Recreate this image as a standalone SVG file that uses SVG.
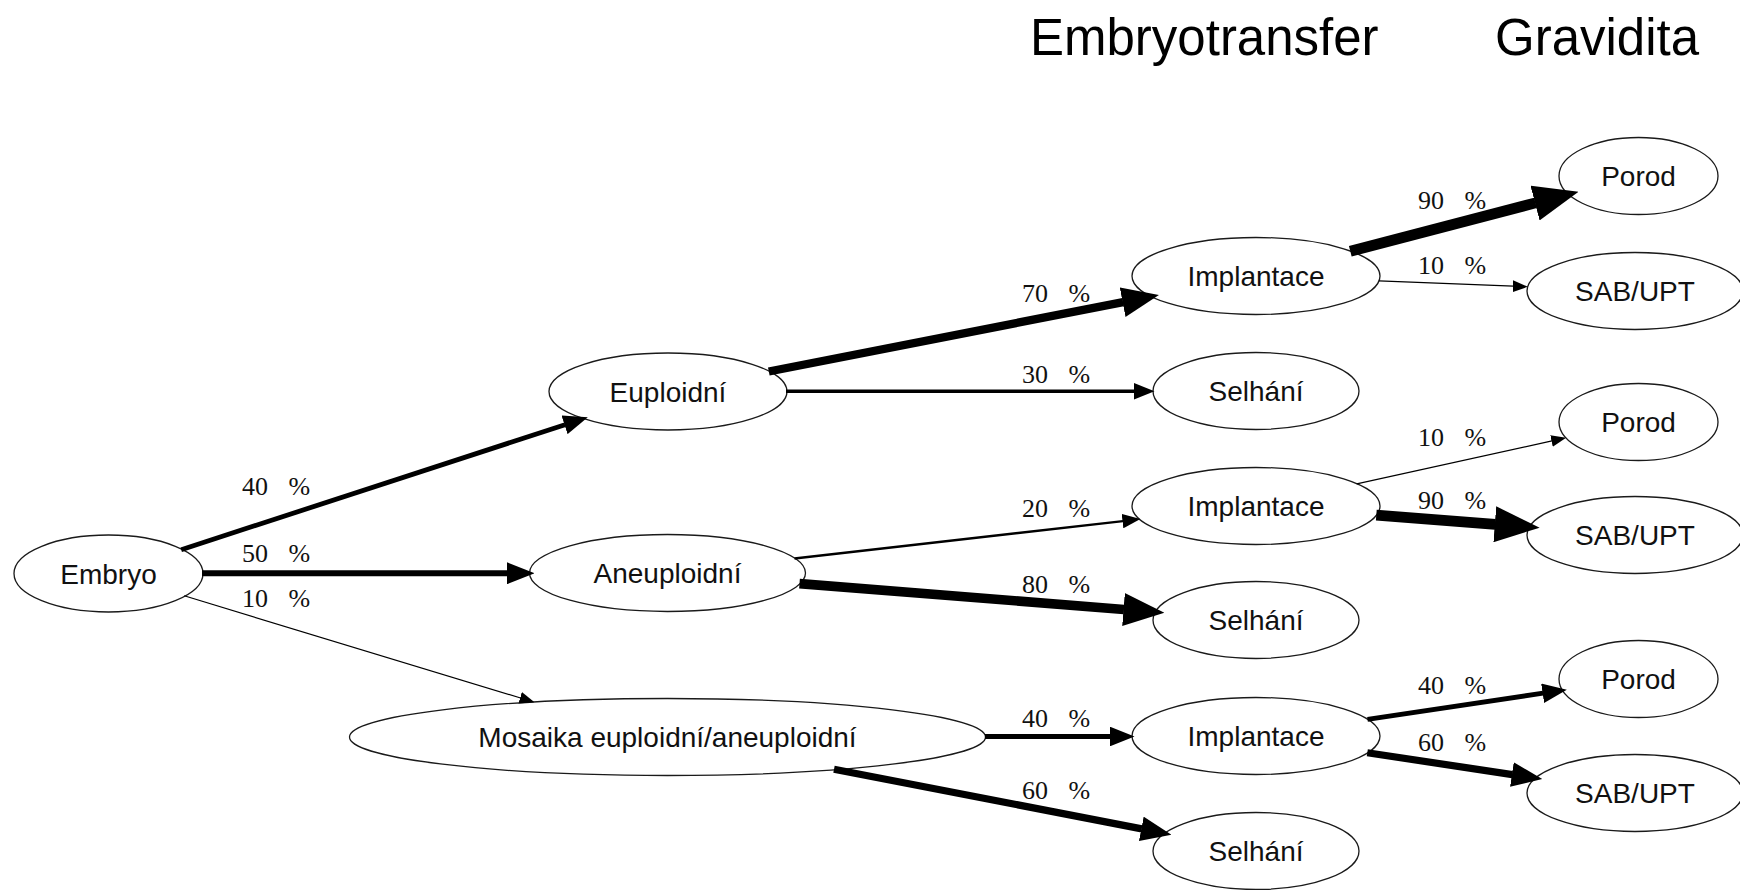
<svg xmlns="http://www.w3.org/2000/svg" width="1740" height="890" viewBox="0 0 1740 890">
<style>
.node ellipse{fill:#fff;stroke:#1a1a1a;stroke-width:1.3}
.node text{font-family:"Liberation Sans",Arial,sans-serif;font-size:28px;fill:#111;text-anchor:middle}
.title{font-family:"Liberation Sans",Arial,sans-serif;font-size:51px;fill:#000}
.edge{stroke:#000;fill:none;stroke-linecap:butt}
.w1{stroke-width:1.2}.w2{stroke-width:2.4}.w3{stroke-width:3.6}.w4{stroke-width:4.8}.w5{stroke-width:6}
.w6{stroke-width:7.2}.w7{stroke-width:8.4}.w8{stroke-width:9.6}.w9{stroke-width:10.8}
.el{font-family:"Liberation Serif","Times New Roman",serif;font-size:26px;fill:#111;word-spacing:14px}
marker path{fill:#000}
</style>
<defs>
<marker id="a1" markerUnits="userSpaceOnUse" viewBox="0 -6 15 12" markerWidth="15" markerHeight="12" refX="0.5" refY="0" orient="auto"><path d="M0,-6L15,0L0,6z"/></marker>
<marker id="a2" markerUnits="userSpaceOnUse" viewBox="0 -7.2 18 14.4" markerWidth="18" markerHeight="14.4" refX="0.5" refY="0" orient="auto"><path d="M0,-7.2L18,0L0,7.2z"/></marker>
<marker id="a3" markerUnits="userSpaceOnUse" viewBox="0 -8.5 21 17" markerWidth="21" markerHeight="17" refX="0.5" refY="0" orient="auto"><path d="M0,-8.5L21,0L0,8.5z"/></marker>
<marker id="a4" markerUnits="userSpaceOnUse" viewBox="0 -9.8 24.5 19.6" markerWidth="24.5" markerHeight="19.6" refX="0.5" refY="0" orient="auto"><path d="M0,-9.8L24.5,0L0,9.8z"/></marker>
<marker id="a5" markerUnits="userSpaceOnUse" viewBox="0 -11 27.6 22" markerWidth="27.6" markerHeight="22" refX="0.5" refY="0" orient="auto"><path d="M0,-11L27.6,0L0,11z"/></marker>
<marker id="a6" markerUnits="userSpaceOnUse" viewBox="0 -12.4 30.7 24.8" markerWidth="30.7" markerHeight="24.8" refX="0.5" refY="0" orient="auto"><path d="M0,-12.4L30.7,0L0,12.4z"/></marker>
<marker id="a7" markerUnits="userSpaceOnUse" viewBox="0 -15 37 30" markerWidth="37" markerHeight="30" refX="0.5" refY="0" orient="auto"><path d="M0,-15L37,0L0,15z"/></marker>
<marker id="a8" markerUnits="userSpaceOnUse" viewBox="0 -16.5 41 33" markerWidth="41" markerHeight="33" refX="0.5" refY="0" orient="auto"><path d="M0,-16.5L41,0L0,16.5z"/></marker>
<marker id="a9" markerUnits="userSpaceOnUse" viewBox="0 -18 45 36" markerWidth="45" markerHeight="36" refX="0.5" refY="0" orient="auto"><path d="M0,-18L45,0L0,18z"/></marker>
</defs>
<rect width="1740" height="890" fill="#fff"/>
<g id="titles">
<text class="title" x="1030" y="55">Embryotransfer</text>
<text class="title" x="1495" y="55">Gravidita</text>
</g>
<g id="nodes">
<g id="n_embryo" class="node"><ellipse cx="108.5" cy="573.5" rx="94.5" ry="38.5"/><text x="108.5" y="583.5">Embryo</text></g>
<g id="n_euploidni" class="node"><ellipse cx="668" cy="391.5" rx="119" ry="38.5"/><text x="668" y="401.5">Euploidní</text></g>
<g id="n_aneuploidni" class="node"><ellipse cx="667.5" cy="573" rx="138" ry="38.5"/><text x="667.5" y="583">Aneuploidní</text></g>
<g id="n_mosaika" class="node"><ellipse cx="667.5" cy="737" rx="318" ry="38.5"/><text x="667.5" y="747">Mosaika euploidní/aneuploidní</text></g>
<g id="n_impl1" class="node"><ellipse cx="1256" cy="276" rx="124" ry="38.5"/><text x="1256" y="286">Implantace</text></g>
<g id="n_sel1" class="node"><ellipse cx="1256" cy="391" rx="103" ry="38.5"/><text x="1256" y="401">Selhání</text></g>
<g id="n_impl2" class="node"><ellipse cx="1256" cy="506" rx="124" ry="38.5"/><text x="1256" y="516">Implantace</text></g>
<g id="n_sel2" class="node"><ellipse cx="1256" cy="620" rx="103" ry="38.5"/><text x="1256" y="630">Selhání</text></g>
<g id="n_impl3" class="node"><ellipse cx="1256" cy="736" rx="124" ry="38.5"/><text x="1256" y="746">Implantace</text></g>
<g id="n_sel3" class="node"><ellipse cx="1256" cy="851" rx="103" ry="38.5"/><text x="1256" y="861">Selhání</text></g>
<g id="n_porod1" class="node"><ellipse cx="1638.5" cy="176" rx="79.5" ry="38.5"/><text x="1638.5" y="186">Porod</text></g>
<g id="n_sab1" class="node"><ellipse cx="1635" cy="291" rx="108" ry="38.5"/><text x="1635" y="301">SAB/UPT</text></g>
<g id="n_porod2" class="node"><ellipse cx="1638.5" cy="422" rx="79.5" ry="38.5"/><text x="1638.5" y="432">Porod</text></g>
<g id="n_sab2" class="node"><ellipse cx="1635" cy="535" rx="108" ry="38.5"/><text x="1635" y="545">SAB/UPT</text></g>
<g id="n_porod3" class="node"><ellipse cx="1638.5" cy="679" rx="79.5" ry="38.5"/><text x="1638.5" y="689">Porod</text></g>
<g id="n_sab3" class="node"><ellipse cx="1635" cy="793" rx="108" ry="38.5"/><text x="1635" y="803">SAB/UPT</text></g>
</g>
<g id="connectors">
<line class="edge w4" x1="181.2" y1="549.7" x2="565" y2="424.7" marker-end="url(#a4)"/>
<line class="edge w5" x1="202" y1="573.3" x2="507.4" y2="573.3" marker-end="url(#a5)"/>
<line class="edge w1" x1="184.2" y1="595.8" x2="520.6" y2="698" marker-end="url(#a1)"/>
<line class="edge w7" x1="768.8" y1="371.5" x2="1123.1" y2="302.1" marker-end="url(#a7)"/>
<line class="edge w3" x1="786" y1="391.3" x2="1134" y2="391.3" marker-end="url(#a3)"/>
<line class="edge w2" x1="794.5" y1="558.5" x2="1123" y2="521.1" marker-end="url(#a2)"/>
<line class="edge w8" x1="799.5" y1="583.6" x2="1124" y2="609.5" marker-end="url(#a8)"/>
<line class="edge w4" x1="985" y1="736.5" x2="1110.5" y2="736.5" marker-end="url(#a4)"/>
<line class="edge w6" x1="834" y1="769.3" x2="1141.8" y2="828.9" marker-end="url(#a6)"/>
<line class="edge w9" x1="1350.3" y1="251.3" x2="1535.5" y2="202.9" marker-end="url(#a9)"/>
<line class="edge w1" x1="1379" y1="280.9" x2="1513.3" y2="286.2" marker-end="url(#a1)"/>
<line class="edge w1" x1="1356.7" y1="483.8" x2="1552" y2="440.9" marker-end="url(#a1)"/>
<line class="edge w9" x1="1376.3" y1="515.2" x2="1495.3" y2="524.3" marker-end="url(#a9)"/>
<line class="edge w4" x1="1367.5" y1="719.4" x2="1543.1" y2="693.2" marker-end="url(#a4)"/>
<line class="edge w6" x1="1367.3" y1="752.7" x2="1512.4" y2="774.6" marker-end="url(#a6)"/>
</g>
<g id="edge-labels">
<text class="el" x="242" y="495">40 %</text>
<text class="el" x="242" y="562">50 %</text>
<text class="el" x="242" y="607">10 %</text>
<text class="el" x="1022" y="302">70 %</text>
<text class="el" x="1022" y="383">30 %</text>
<text class="el" x="1022" y="517">20 %</text>
<text class="el" x="1022" y="593">80 %</text>
<text class="el" x="1022" y="727">40 %</text>
<text class="el" x="1022" y="799">60 %</text>
<text class="el" x="1418" y="209">90 %</text>
<text class="el" x="1418" y="274">10 %</text>
<text class="el" x="1418" y="446">10 %</text>
<text class="el" x="1418" y="509">90 %</text>
<text class="el" x="1418" y="694">40 %</text>
<text class="el" x="1418" y="751">60 %</text>
</g>
</svg>
